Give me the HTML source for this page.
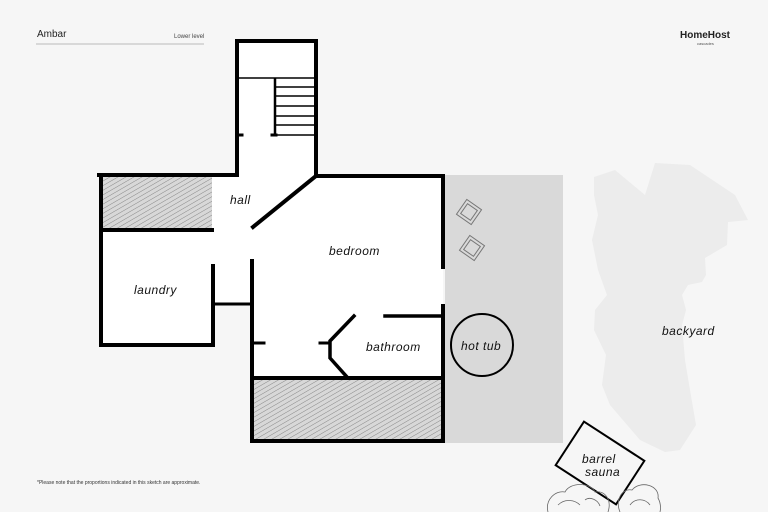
<!DOCTYPE html>
<html><head><meta charset="utf-8"><style>
html,body{margin:0;padding:0;background:#f6f6f6;}
svg{display:block;}
.h{font-family:"Liberation Sans",sans-serif;}
.l{font-family:"Liberation Sans",sans-serif;font-size:12px;fill:#111;font-style:italic;letter-spacing:0.5px;}
</style></head><body>
<svg width="768" height="512" viewBox="0 0 768 512" xmlns="http://www.w3.org/2000/svg">
<defs>
<pattern id="hatch" width="4" height="4" patternUnits="userSpaceOnUse" patternTransform="rotate(-30)">
<rect width="4" height="4" fill="#d8d8d8"/>
<line x1="0" y1="0" x2="4" y2="0" stroke="#888" stroke-width="1"/>
</pattern>
</defs>
<rect width="768" height="512" fill="#f6f6f6"/>
<!-- header -->
<text x="37" y="37" class="h" font-size="10" fill="#222">Ambar</text>
<text x="174" y="38" class="h" font-size="6" fill="#444">Lower level</text>
<line x1="36" y1="44" x2="204" y2="44" stroke="#bbb" stroke-width="1"/>
<text x="680" y="38" class="h" font-size="10" fill="#222" font-weight="bold">HomeHost</text>
<text x="697" y="45" class="h" font-size="4" fill="#555">cascades</text>
<text x="37" y="484" class="h" font-size="5" fill="#333">*Please note that the proportions indicated in this sketch are approximate.</text>

<!-- backyard blob -->
<path d="M594,177 L615,170 L645,195 L655,163 L690,165 L735,195 L748,220 L728,222 L727,245 L705,258 L706,275 L702,282 L688,285 L682,295 L686,310 L682,325 L685,360 L690,390 L696,425 L680,450 L665,452 L640,440 L610,405 L602,385 L606,355 L594,330 L595,310 L607,295 L598,270 L592,240 L598,215 L594,195 Z" fill="#ececec"/>
<text x="662" y="335" class="l">backyard</text>

<!-- patio -->
<rect x="445" y="175" width="118" height="268" fill="#d9d9d9"/>

<!-- interior white -->
<g fill="#fff">
<rect x="237" y="41" width="79" height="137"/>
<rect x="101" y="177" width="113" height="168"/>
<rect x="212" y="177" width="231" height="127"/>
<rect x="252" y="302" width="191" height="79"/>
</g>
<rect x="101" y="177" width="111" height="53" fill="url(#hatch)"/>
<rect x="252" y="378" width="191" height="63" fill="url(#hatch)"/>

<!-- walls -->
<g stroke="#000" stroke-width="4" fill="none" stroke-linecap="square">
<path d="M237,135 L237,41 L316,41 L316,176"/>
<line x1="237" y1="135" x2="237" y2="175"/>
<path d="M99,175 L237,175"/>
<path d="M316,176 L443,176 L443,267"/>
<path d="M443,306 L443,441 L252,441 L252,261"/>
<line x1="316" y1="176" x2="253" y2="227" stroke-width="4"/>
<path d="M101,175 L101,345 L213,345 L213,266"/>
<line x1="101" y1="230" x2="212" y2="230"/>
<line x1="213" y1="304" x2="252" y2="304" stroke-width="3"/>
<line x1="252" y1="378" x2="443" y2="378"/>
<line x1="385" y1="316" x2="443" y2="316" stroke-width="3.5"/>
<path d="M354,316 L330,341 L330,358 L347,377" stroke-width="3.5"/>
<line x1="320" y1="343" x2="330" y2="343" stroke-width="3"/>
<line x1="252" y1="343" x2="264" y2="343" stroke-width="3"/>
<line x1="237" y1="135" x2="242" y2="135" stroke-width="3"/>
<line x1="272" y1="135" x2="276" y2="135" stroke-width="3"/>
</g>
<!-- stairs -->
<g stroke="#000" stroke-width="1.5">
<line x1="239" y1="78" x2="316" y2="78"/>
<line x1="275" y1="78" x2="275" y2="135" stroke-width="2.5"/>
<line x1="275" y1="87" x2="316" y2="87"/>
<line x1="275" y1="96" x2="316" y2="96"/>
<line x1="275" y1="106" x2="316" y2="106"/>
<line x1="275" y1="116" x2="316" y2="116"/>
<line x1="275" y1="125" x2="316" y2="125"/>
<line x1="275" y1="135" x2="316" y2="135"/>
</g>

<!-- labels -->
<text x="230" y="204" class="l">hall</text>
<text x="329" y="255" class="l">bedroom</text>
<text x="134" y="294" class="l">laundry</text>
<text x="366" y="351" class="l">bathroom</text>

<!-- chairs -->
<g fill="none" stroke="#777" stroke-width="1">
<rect x="460" y="203" width="18" height="18" transform="rotate(35 469 212)"/>
<rect x="463" y="206" width="12" height="12" transform="rotate(35 469 212)"/>
<rect x="463" y="239" width="18" height="18" transform="rotate(35 472 248)"/>
<rect x="466" y="242" width="12" height="12" transform="rotate(35 472 248)"/>
</g>
<!-- hot tub -->
<circle cx="482" cy="345" r="31" fill="none" stroke="#000" stroke-width="2"/>
<text x="461" y="350" class="l">hot tub</text>

<!-- sauna -->
<rect x="564" y="437" width="72" height="52" fill="#f6f6f6" stroke="#000" stroke-width="2" transform="rotate(33 600 463)"/>
<text x="582" y="463" class="l">barrel</text>
<text x="585" y="476" class="l">sauna</text>
<!-- bushes -->
<g fill="none" stroke="#666" stroke-width="0.8">
<path d="M548,512 C545,500 555,490 565,492 C570,482 590,482 595,492 C605,490 612,500 608,512"/>
<path d="M558,505 C565,498 575,500 580,505 M585,500 C590,496 598,500 600,506"/>
<path d="M620,512 C615,500 622,488 632,490 C640,480 660,485 658,498 C662,505 660,512 660,512"/>
<path d="M630,505 C635,498 645,498 650,505"/>
</g>
</svg>
</body></html>
